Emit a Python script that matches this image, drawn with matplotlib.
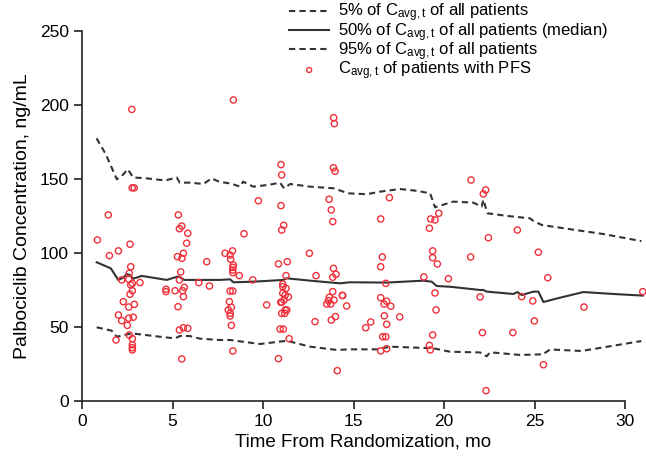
import matplotlib
matplotlib.use("Agg")
import matplotlib.pyplot as plt

plt.rcParams['font.family'] = ['Liberation Sans', 'DejaVu Sans']
plt.rcParams['mathtext.fontset'] = 'custom'
plt.rcParams['mathtext.rm'] = 'Liberation Sans'
plt.rcParams['mathtext.it'] = 'Liberation Sans'

# percentile curves (time in months, concentration ng/mL)
p95_t = [0.8, 1.3, 1.92, 2.2, 2.52, 2.83, 3.5, 4.6, 5.23, 5.4, 6.0, 6.7, 7.16, 7.6, 8.2,
         8.73, 8.9, 9.46, 10.3, 10.94, 11.16, 11.5, 12.6, 13.9, 14.7, 15.73, 16.5, 17.57,
         18.5, 19.23, 19.5, 20.51, 21.62, 22.08, 22.17, 22.4, 23.5, 24.75, 24.94, 25.4,
         27.0, 28.8, 30.9]
p95_c = [177.5, 167, 149.8, 152, 156.6, 151, 150.5, 149, 151, 147.5, 147.5, 146.6, 150.4,
         148, 147, 144.8, 148.2, 144.8, 146, 147.5, 143.7, 146.6, 144.8, 143.7, 140.3, 139.7,
         141.5, 143.2, 142, 140.3, 130.9, 134.7, 134, 131.3, 136, 126.8, 125, 123.4, 121.6,
         118.9, 116, 112.8, 108]

p50_t = [0.81, 1.59, 2.0, 2.3, 2.47, 2.65, 2.83, 3.3, 4.68, 5.32, 5.65, 7.07, 7.62, 8.18,
         8.36, 9.46, 11.12, 11.3, 12.6, 14.25, 14.8, 16.83, 18.86, 19.32, 19.59, 20.33,
         21.99, 22.17, 22.36, 23.83, 24.05, 24.29, 24.94, 25.21, 25.49, 26.41, 27.7, 29.36,
         30.98]
p50_c = [93.7, 89.6, 81.8, 83.5, 85.8, 85, 82.6, 84.5, 81.8, 84.2, 81.8, 81.8, 81.8, 82.2,
         80.2, 80.6, 81.8, 82.9, 81.3, 79.5, 80.2, 80, 81.3, 80.6, 77.7, 77.2, 75, 75, 73.9,
         72.3, 73.6, 71.6, 73.9, 73.9, 66.9, 69.8, 73.6, 72.3, 71.2]

p5_t = [0.81, 1.64, 1.92, 2.75, 4.31, 5.14, 5.41, 5.95, 6.52, 7.62, 8.18, 9.83, 11.31, 12.6,
        14.07, 14.8, 16.28, 17.02, 19.42, 20.33, 21.99, 22.36, 22.54, 24.2, 25.3, 25.4,
        25.86, 27.6, 30.9]
p5_c = [49.8, 47.5, 43.4, 45.7, 43.4, 42.3, 43.9, 43.9, 42.1, 41.2, 41.2, 38.5, 40.7, 36.7,
        34.5, 34.9, 34.9, 36.7, 35.6, 33.3, 32.8, 30.2, 32.9, 31.1, 31.5, 31.1, 34.8, 33.8,
        40.5]

# observed Cavg,t of patients with PFS
pts_t = [2.75, 2.77, 2.88, 1.45, 5.32, 0.85, 1.51, 2.01, 2.65, 2.69, 2.61, 2.19, 2.58, 2.78,
         2.69, 3.2, 2.78, 2.65, 2.28, 2.89, 2.58, 2.01, 2.83, 2.58, 2.19, 2.50, 2.61, 1.88,
         2.78, 2.78, 2.78, 2.78, 5.51, 5.38, 5.84, 5.78, 5.60, 5.27, 5.52, 5.45, 5.38, 4.64,
         4.64, 5.14, 5.65, 5.56, 5.60, 5.30, 5.38, 5.60, 5.84, 5.51, 6.89, 6.45, 7.04,
         8.36, 13.9, 13.94, 10.99, 11.03, 13.89, 13.98, 9.74, 10.99, 13.65, 13.77, 13.85,
         11.14, 11.03, 8.95, 7.9, 8.18, 8.31, 8.21, 8.36, 8.33, 8.33, 8.33, 8.69, 9.43,
         8.18, 8.33, 8.14, 8.25, 8.08, 8.18, 8.18, 8.25, 8.33, 10.85, 11.34, 12.56, 11.27,
         11.09, 11.09, 11.27, 11.09, 11.22, 11.4, 11.16, 10.98, 11.03, 10.2, 11.22, 11.31,
         11.03, 11.2, 10.94, 11.12, 11.44, 10.85, 12.93, 13.89, 14.03, 13.85, 13.85, 14.38,
         13.66, 13.92, 13.52, 13.74, 13.61, 14.62, 14.0, 13.77, 12.87, 14.1, 21.49, 22.3,
         22.17, 16.98, 16.5, 19.71, 19.26, 19.5, 19.19, 22.45, 24.05, 16.59, 16.5, 19.37,
         19.37, 19.63, 21.47, 18.88, 20.24, 16.78, 14.4, 16.5, 16.83, 16.69, 17.06, 19.5,
         19.56, 21.99, 16.7, 17.55, 15.95, 15.67, 16.83, 16.61, 16.78, 16.83, 16.5, 19.37,
         19.19, 19.24, 22.12, 22.32, 25.21, 25.73, 24.29, 24.9, 27.73, 30.98, 24.99, 23.8,
         25.49]
pts_c = [197, 144, 144, 125.7, 125.7, 108.8, 98.2, 101.4, 105.9, 90.7, 86.3, 81.8, 82.2,
         79.5, 78.4, 80, 74.5, 72.1, 67.1, 65.3, 63.5, 58.1, 56.6, 55.9, 54.3, 51.1, 44.6,
         41.2, 42.1, 38, 36, 34.5, 118.2, 116.4, 113.3, 106.6, 99.8, 97.5, 96.4, 87.2, 81.8,
         75.5, 73.9, 74.5, 76.8, 74.5, 70.5, 63.7, 48.0, 49.5, 49.1, 28.4, 94.1, 80, 77.7,
         203.4, 191.4, 187.4, 159.7, 152.7, 157.6, 155.2, 135.3, 132.0, 136.3, 129.1, 121.2,
         118.7, 115.5, 113.0, 99.8, 98.6, 101.4, 95.7, 91.9, 90.3, 88.5, 86.7, 84.7, 81.8,
         74.3, 74.3, 67.1, 63.3, 61.5, 59.2, 57.4, 51.1, 33.8, 92.6, 94.1, 99.8, 84.7, 79,
         77.2, 76.1, 72.8, 71.6, 70.3, 68.2, 66.7, 66.7, 64.9, 61.5, 61.5, 59.2, 59.2, 48.6,
         48.6, 42.1, 28.6, 84.7, 89.6, 85.6, 83.6, 73.9, 71.4, 70.1, 68.2, 65.5, 65.5, 67.8,
         64.2, 57.0, 54.7, 53.6, 20.5, 149.3, 142.6, 139.9, 137.4, 123.0, 126.8, 123, 122.3,
         116.7, 110.3, 115.5, 97.3, 90.7, 101.4, 96.8, 92.6, 97.3, 83.8, 82.6, 79.5, 71.2,
         69.8, 67.4, 65.5, 64, 73, 61.5, 70.3, 57.6, 56.8, 53.4, 49.5, 51.8, 43.4, 43.4, 35.3,
         33.8, 44.6, 37.6, 34.5, 46.2, 7.0, 100.5, 83.3, 70.5, 67.6, 63.5, 73.9, 54.1, 46.2,
         24.5]

xticks = [0, 5, 10, 15, 20, 25, 30]
yticks = [0, 50, 100, 150, 200, 250]

sub = r"C$_{\mathregular{avg,t}}$"
labels = ["5% of " + sub + " of all patients",
          "50% of " + sub + " of all patients (median)",
          "95% of " + sub + " of all patients",
          sub + " of patients with PFS"]

line_col = "#333333"
red = "#f0303a"

fig = plt.figure(figsize=(6.46, 4.69), dpi=100)
ax = fig.add_axes([0.127, 0.145, 0.870, 0.789])

h5, = ax.plot(p5_t, p5_c, color=line_col, lw=1.5, dashes=(3, 2))
h50, = ax.plot(p50_t, p50_c, color=line_col, lw=1.5)
h95, = ax.plot(p95_t, p95_c, color=line_col, lw=1.5, dashes=(3, 2))
hp = ax.scatter(pts_t, pts_c, s=20, facecolors="none", edgecolors=red, linewidths=1.0,
                clip_on=False, zorder=3)

ax.set_xlim(0, 31.05)
ax.set_ylim(0, 250)
ax.set_xticks(xticks)
ax.set_yticks(yticks)
ax.spines['top'].set_visible(False)
ax.spines['right'].set_visible(False)
ax.spines['bottom'].set_bounds(0, 30)
ax.spines['left'].set_bounds(0, 250)
for s in ['left', 'bottom']:
    ax.spines[s].set_linewidth(1.2)
    ax.spines[s].set_color("#222222")
ax.tick_params(direction='out', length=6, width=1.2, labelsize=12.5, color="#222222")
ax.set_xlabel("Time From Randomization, mo", fontsize=13.5, labelpad=3)
ax.set_ylabel("Palbociclib Concentration, ng/mL", fontsize=14, labelpad=6)

fig.legend([h5, h50, h95, hp], labels, loc='upper left', bbox_to_anchor=(0.445, 1.0),
           frameon=False, fontsize=12, handlelength=2.4, handletextpad=0.55,
           labelspacing=-0.2, borderpad=0.1, borderaxespad=0, markerscale=0.8)

fig.savefig("out.png", dpi=100)
